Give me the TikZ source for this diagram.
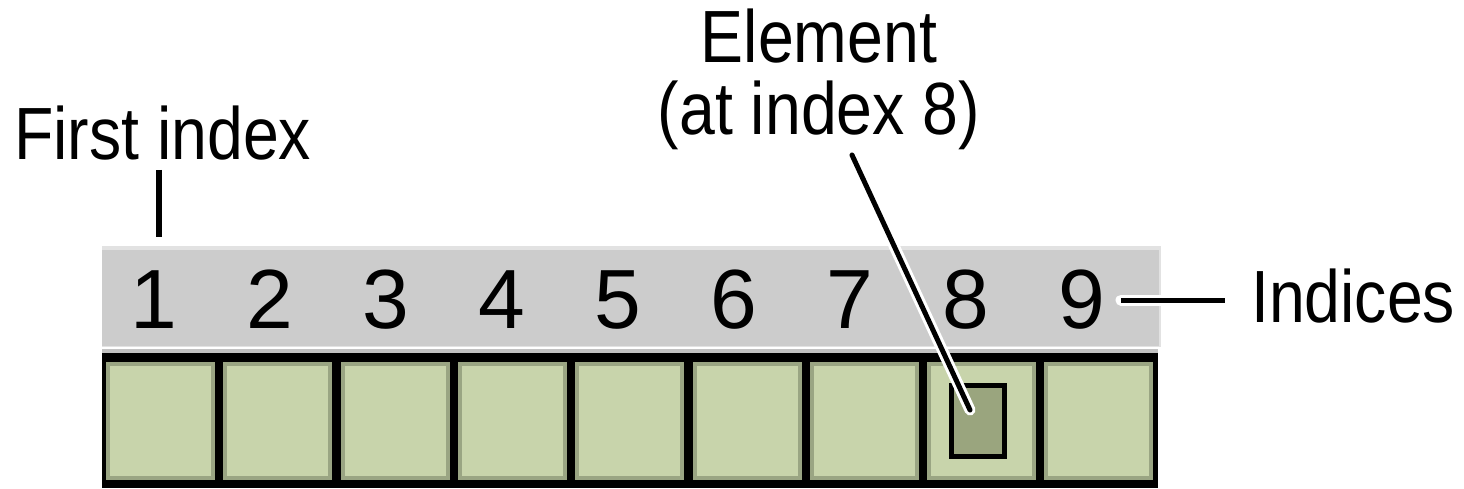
\documentclass[tikz,border=0pt]{standalone}
\usepackage{fontspec}
\usetikzlibrary{calc}
\setmainfont{Liberation Sans}[FakeStretch=0.87]
\newfontfamily\digitfont{Liberation Sans}
\definecolor{band}{HTML}{CCCCCC}
\definecolor{bandedge}{HTML}{E2E2E2}
\definecolor{cellfill}{HTML}{C8D4AB}
\definecolor{cellrim}{HTML}{9AA583}
\definecolor{elemfill}{HTML}{9AA57E}
\tikzset{
  lbl/.style={inner sep=0pt, font=\fontsize{74}{80}\selectfont},
  digit/.style={inner sep=0pt, anchor=base, font=\digitfont\fontsize{84}{90}\selectfont},
  cellbox/.style={fill=cellrim, draw=none, minimum width=109pt, minimum height=118pt, inner sep=0pt, outer sep=0pt},
  leader/.style={line width=5pt, black},
  halo/.style={line width=11pt, white, line cap=round},
}
\begin{document}
\begin{tikzpicture}[x=1pt,y=-1pt]
\useasboundingbox (0,0) rectangle (1464,489);
% band
\fill[bandedge] (102,246) rectangle (1161,347);
\fill[band] (102,249.5) rectangle (1158.5,345.5);
\fill[band!95!black] (102,348.5) rectangle (1158,353);
% array frame
\node[fill=black, minimum width=1056pt, minimum height=135pt, inner sep=0pt, outer sep=0pt] (frame) at (630,420.5) {};
% cells
\foreach \i in {1,...,9}{
  \node[cellbox] (c\i) at ({106+54.5+(\i-1)*117.3},421) {};
  \fill[cellfill] ([xshift=4pt,yshift=-4pt]c\i.north west) rectangle ([xshift=-4pt,yshift=4pt]c\i.south east);
}
% element at index 8
\node[fill=elemfill, draw=black, line width=5pt, minimum width=53pt, minimum height=71pt, inner sep=0pt] (el) at (978,421) {};
% digits
\foreach \i in {1,...,9}{
  \node[digit] (d\i) at ({153.4+(\i-1)*116.1},328) {\i};
}
% labels
\node[lbl, anchor=base west] (first) at (14,160) {First index};
\node[lbl, anchor=base west] (indices) at (1251,322) {Indices};
\node[lbl, anchor=base] (elemA) at (819,63) {Element};
\node[lbl, anchor=base] (elemB) at (819,135) {(at index 8)};
% connectors
\coordinate (fiTop) at (158.5,170);
\coordinate (fiBot) at (158.5,237);
\draw[line width=6pt] (fiTop) -- (fiBot);
\coordinate (inA) at (1121,300);
\coordinate (inB) at (1225,300);
\draw[halo] (inA) -- (inB);
\draw[leader] (inA) -- (inB);
\coordinate (elTop) at (852,155);
\coordinate (elEnd) at (970,410);
\draw[halo] ($(elTop)!0.35!(elEnd)$) -- (elEnd);
\draw[leader, line cap=round] (elTop) -- (elEnd);
\end{tikzpicture}
\end{document}
